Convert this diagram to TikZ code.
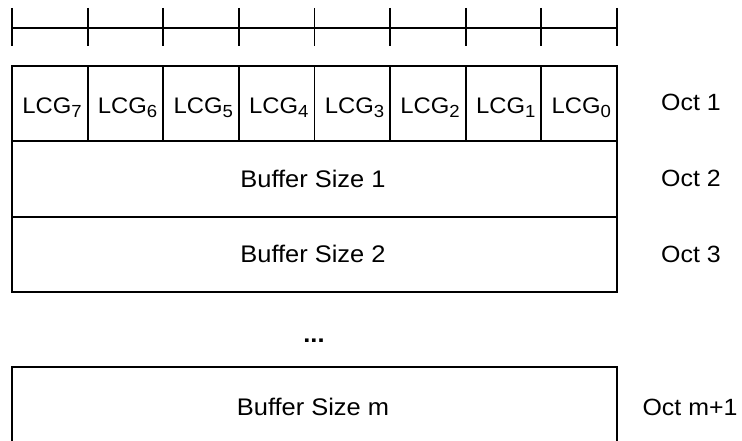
\documentclass[tikz,border=0pt]{standalone}
\usepackage{fontspec}
\setmainfont{Liberation Sans}[FakeStretch=1.06]
\newcommand\lcgsub[1]{\raisebox{-3.3pt}{\fontsize{17.5}{17.5}\selectfont#1}}
\begin{document}
\begin{tikzpicture}[x=1pt,y=-1pt,line width=1.9pt,
	lbl/.style={font=\fontsize{24}{28}\selectfont,anchor=base,inner sep=0pt},
	oct/.style={font=\fontsize{23.5}{28}\selectfont,anchor=base,inner sep=0pt},
	lcg/.style={font=\fontsize{22.5}{26}\selectfont,anchor=base,inner sep=0pt}]
	\useasboundingbox (0,0) rectangle (742,441);
	% bit ruler
		\draw (12,28) -- (617,28);
		\foreach \i in {0,...,8} \draw (12+75.625*\i,8) -- ++(0,38);
	% octet 1
		\draw (12,66) rectangle (617,141);
		\foreach \i in {1,...,7} \draw (12+75.625*\i,66) -- ++(0,75);
		\foreach \i in {0,...,7} {
			\pgfmathtruncatemacro\bit{7-\i}
			\node[lcg] (lcg\bit) at (52+75.625*\i,114) {LCG\lcgsub{\bit}};
		}
		\node[oct] (oct1) at (691,111) {Oct 1};
	% octet 2
		\draw (12,141) rectangle (617,217);
		\node[lbl] (bsize1) at (313,187) {Buffer Size 1};
		\node[oct] (oct2) at (691,186.5) {Oct 2};
	% octet 3
		\draw (12,217) rectangle (617,292);
		\node[lbl] (bsize2) at (313,262.5) {Buffer Size 2};
		\node[oct] (oct3) at (691,262) {Oct 3};
	% more octets
		\node[lbl,font=\fontsize{24}{28}\selectfont\bfseries] (dots) at (314,342.7) {...};
	% last octet
		\draw (12,441) -- (12,367) -- (617,367) -- (617,441);
		\node[lbl] (bsizem) at (313,415.5) {Buffer Size m};
		\node[oct] (octm) at (690,415.5) {Oct m+1};
\end{tikzpicture}
\end{document}
